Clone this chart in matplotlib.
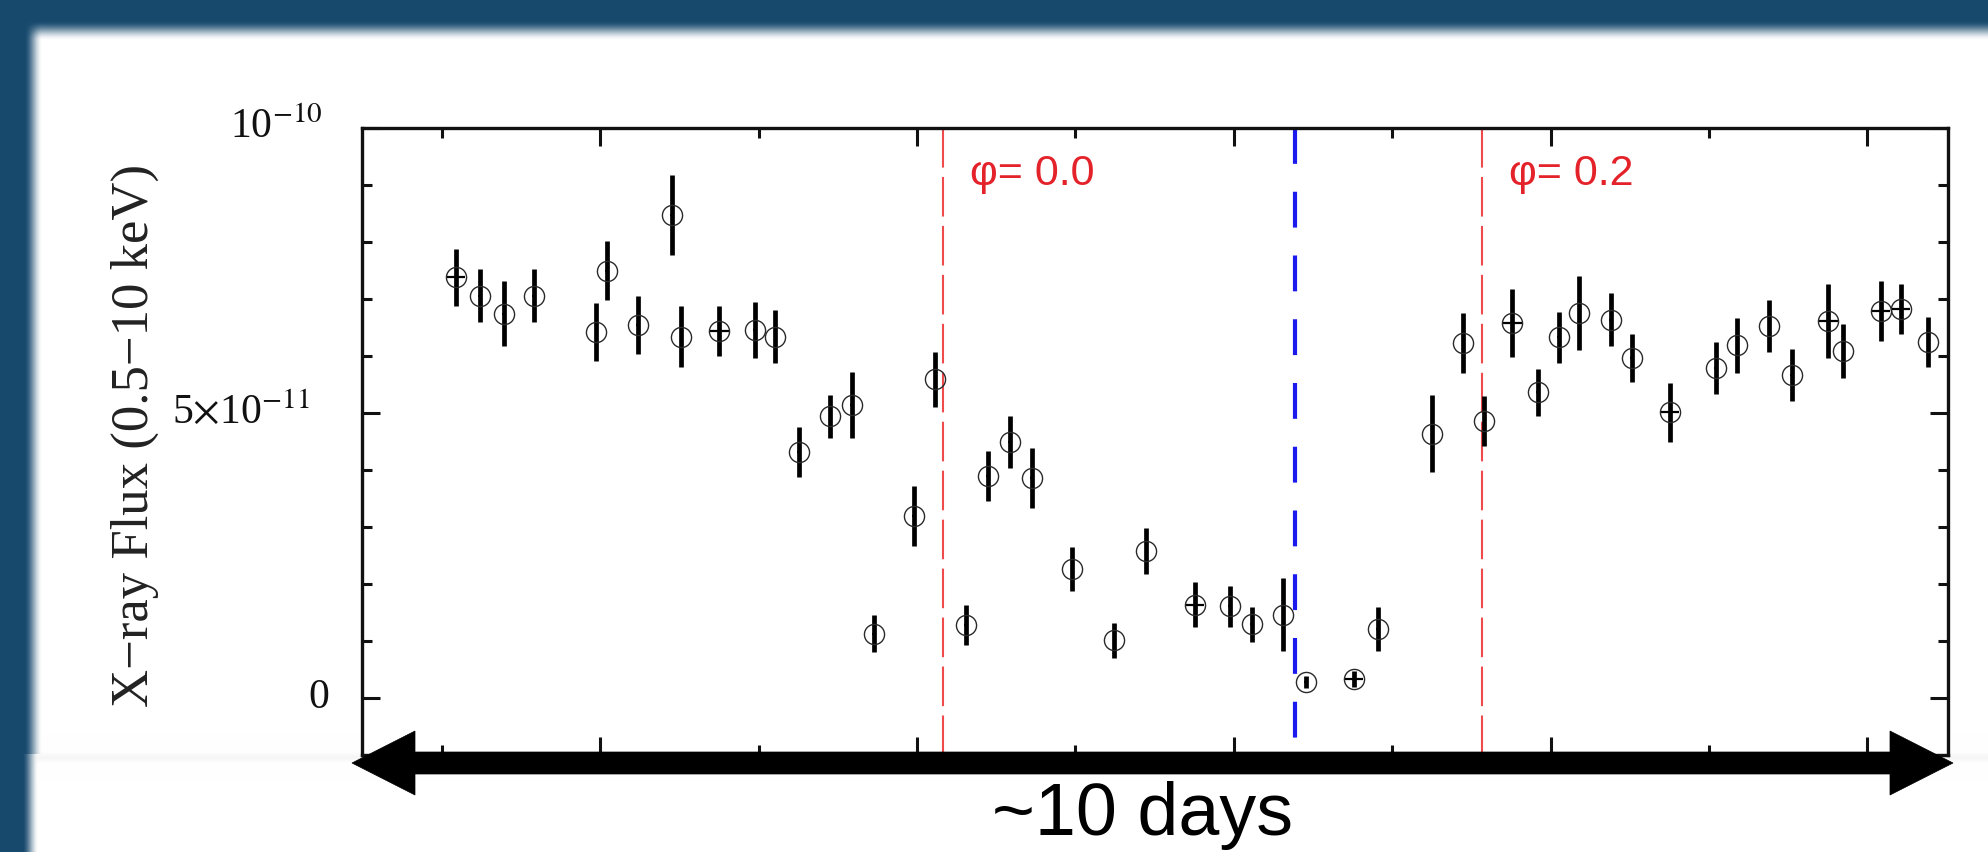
import numpy as np
import matplotlib
matplotlib.use("Agg")
import matplotlib.pyplot as plt
from matplotlib.patches import Polygon
from matplotlib.ticker import MultipleLocator, FixedLocator
from matplotlib.transforms import ScaledTranslation

# ---------------- data ----------------
days = [1.088, 1.238, 1.389, 1.579, 1.975, 2.042, 2.238, 2.453, 2.512, 2.752, 2.975, 3.105,
        3.253, 3.453, 3.589, 3.726, 3.979, 4.116, 4.309, 4.446, 4.585, 4.726, 4.979, 5.246, 5.448,
        5.752, 5.975, 6.112, 6.312, 6.453, 6.758, 6.909, 7.253, 7.448, 7.583, 7.758, 7.920, 8.053, 8.182,
        8.379, 8.512, 8.754, 9.044, 9.179, 9.381, 9.522, 9.754, 9.848, 10.084, 10.213, 10.385]
flux_e11 = [7.38, 7.06, 6.74, 7.06, 6.42, 7.50, 6.54, 8.48, 6.34, 6.44, 6.46, 6.34,
            4.31, 4.94, 5.14, 1.13, 3.19, 5.59, 1.28, 3.90, 4.49, 3.86, 2.26, 1.01, 2.58,
            1.64, 1.61, 1.29, 1.46, 0.28, 0.34, 1.21, 4.64, 6.23, 4.86, 6.58, 5.36, 6.33, 6.76,
            6.64, 5.97, 5.01, 5.79, 6.19, 6.53, 5.67, 6.61, 6.09, 6.79, 6.83, 6.25]
err_e11 = [0.50, 0.47, 0.57, 0.47, 0.51, 0.51, 0.51, 0.70, 0.53, 0.44, 0.49, 0.46,
           0.44, 0.37, 0.58, 0.33, 0.53, 0.48, 0.35, 0.44, 0.45, 0.53, 0.39, 0.31, 0.41,
           0.40, 0.36, 0.31, 0.64, 0.11, 0.14, 0.38, 0.67, 0.53, 0.44, 0.60, 0.42, 0.45, 0.65,
           0.46, 0.42, 0.52, 0.46, 0.48, 0.46, 0.46, 0.65, 0.48, 0.52, 0.44, 0.44]
xerr_days = [0.06, 0.01, 0.01, 0.01, 0.01, 0.01, 0.01, 0.01, 0.01, 0.06, 0.01, 0.01,
             0.01, 0.01, 0.01, 0.01, 0.01, 0.01, 0.01, 0.01, 0.01, 0.01, 0.01, 0.01, 0.01,
             0.06, 0.01, 0.01, 0.01, 0.01, 0.06, 0.01, 0.01, 0.01, 0.01, 0.06, 0.01, 0.01, 0.01,
             0.01, 0.01, 0.06, 0.01, 0.01, 0.01, 0.01, 0.06, 0.01, 0.06, 0.06, 0.01]

phase_days = [4.165, 7.568]
phase_labels = ["\u03c6= 0.0", "\u03c6= 0.2"]
blue_day = 6.389

ytick_vals = [0, 5e-11, 1e-10]
ytick_labels = ["0", r"5$\times$10$^{-11}$", r"10$^{-10}$"]
ylabel = "X\u2212ray Flux (0.5\u221210 keV)"
span_label = "~10 days"

# ---------------- figure ----------------
plt.rcParams["mathtext.fontset"] = "stix"
W, H, DPI = 1988, 852, 100
fig = plt.figure(figsize=(W / DPI, H / DPI), dpi=DPI)

# slide-like background (dark blue frame with white panel)
xs = np.arange(W)[None, :].astype(float)
ys = np.arange(H)[:, None].astype(float)
def smooth(t):
    t = np.clip(t, 0, 1)
    return t * t * (3 - 2 * t)
w_top = smooth((xs - 24) / 18) * smooth((ys - 20) / 20)
w_bot = smooth((xs - 22) / 16) * np.ones_like(ys)
w = np.where(ys < 754, w_top, w_bot)
blue = np.array([0.094, 0.29, 0.43])
white = np.array([1.0, 1.0, 1.0])
img = blue[None, None, :] * (1 - w[..., None]) + white[None, None, :] * w[..., None]
band = 1 - 0.035 * np.exp(-((ys - 757) / 4.0) ** 2) * smooth((xs - 30) / 10)
img = img * band[..., None]
bg = fig.add_axes([0, 0, 1, 1], zorder=-10)
bg.imshow(img, aspect="auto", extent=(0, 1, 0, 1), interpolation="bilinear")
bg.set_axis_off()

# main axes
L, R, T, B = 362, 1948, 128, 755
ax = fig.add_axes([L / W, (H - B) / H, (R - L) / W, (B - T) / H])
ax.set_facecolor("white")

ax.set_xlim(0.495, 10.51)
ax.set_ylim(-1e-11, 1e-10)

flux = np.array(flux_e11) * 1e-11
err = np.array(err_e11) * 1e-11

ax.errorbar(days, flux, yerr=err, fmt="none", ecolor="black", elinewidth=3.4, capsize=0, zorder=3)
ax.errorbar(days, flux, xerr=xerr_days, fmt="none", ecolor="black", elinewidth=1.6, capsize=0, zorder=3)
ax.plot(days, flux, linestyle="none", marker="o", markersize=14.5, markerfacecolor="none",
        markeredgecolor="#2a2a2a", markeredgewidth=1.0, zorder=4)

# phase lines (drawn from the top so the dash pattern starts at the top frame)
xtrans = ax.get_xaxis_transform()
for d in phase_days:
    ax.plot([d, d], [1, 0], transform=xtrans, color="#ef4a4c", lw=1.5,
            linestyle=(0, (19, 4.5)), zorder=2)
ax.plot([blue_day, blue_day], [1, 0], transform=xtrans, color="#1a1aee", lw=3.0,
        linestyle=(0, (8.6, 6.7)), zorder=2)

for d, lab in zip(phase_days, phase_labels):
    ax.text(d + 0.17, 9.19e-11, lab, color="#e4222a", fontsize=31, ha="left", va="center",
            family=["Liberation Sans", "DejaVu Sans"], zorder=5)

# ticks
ax.xaxis.set_major_locator(FixedLocator([2, 4, 6, 8, 10]))
ax.xaxis.set_minor_locator(FixedLocator([1, 3, 5, 7, 9]))
ax.yaxis.set_major_locator(FixedLocator(ytick_vals))
ax.yaxis.set_minor_locator(MultipleLocator(1e-11))
ax.set_xticklabels([])
ax.set_yticklabels([])
ax.tick_params(which="both", direction="in", top=True, right=True, width=2.2, color="#111111")
ax.tick_params(which="major", length=13)
ax.tick_params(which="minor", length=7.5)
for s in ax.spines.values():
    s.set_linewidth(2.4)
    s.set_color("#111111")

# y tick labels (right ends at slightly different gaps, as in the original)
label_gap_px = [33, 52, 39]
ytrans = ax.get_yaxis_transform()
for v, lab, gap in zip(ytick_vals, ytick_labels, label_gap_px):
    off = ScaledTranslation(-gap / DPI, 0, fig.dpi_scale_trans)
    ax.text(0, v, lab, transform=ytrans + off, ha="right", va="center", fontsize=30,
            family="Liberation Serif", color="#111111")

ax.set_ylabel(ylabel, fontsize=38, family="Liberation Serif", color="#222222")
ax.yaxis.set_label_coords(-0.128, 0.51)

# double-headed span arrow (pixel geometry converted to inches)
yc = (H - 763) / DPI
x0, x1 = 352 / DPI, 1953 / DPI
hl, hw, sw = 63 / DPI, 32 / DPI, 11 / DPI
pts = [(x0, yc), (x0 + hl, yc + hw), (x0 + hl, yc + sw), (x1 - hl, yc + sw), (x1 - hl, yc + hw),
       (x1, yc), (x1 - hl, yc - hw), (x1 - hl, yc - sw), (x0 + hl, yc - sw), (x0 + hl, yc - hw)]
fig.patches.append(Polygon(pts, closed=True, facecolor="black", edgecolor="black", lw=0.5,
                           transform=fig.dpi_scale_trans, zorder=5))

fig.text(1142 / W, (H - 835) / H, span_label, fontsize=53, ha="center", va="baseline",
         family=["Liberation Sans", "DejaVu Sans"], color="black")

fig.savefig("out.png", dpi=DPI)
